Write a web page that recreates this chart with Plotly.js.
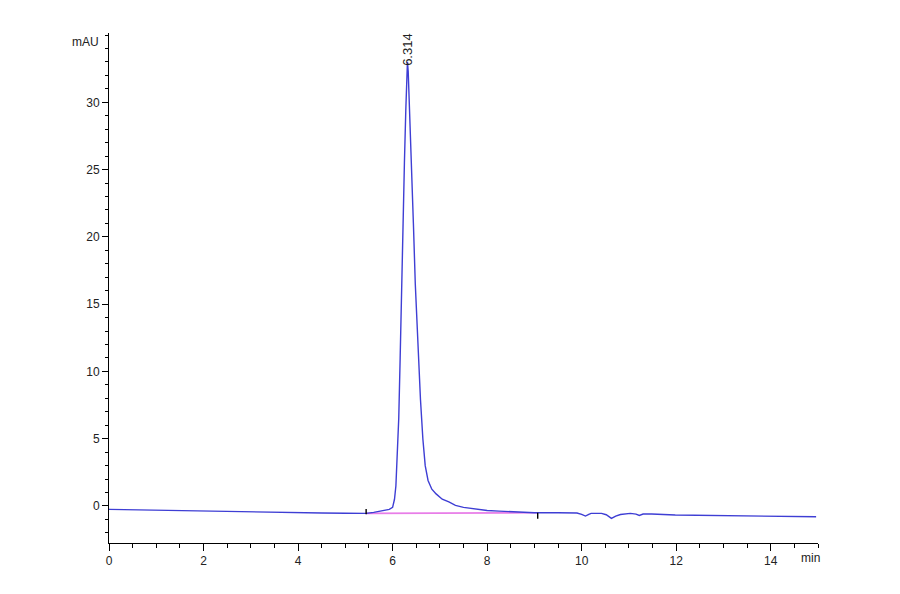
<!DOCTYPE html>
<html>
<head>
<meta charset="utf-8">
<script src="https://cdn.plot.ly/plotly-3.0.1.min.js"></script>
<style>
  html, body { margin: 0; padding: 0; background: #fff; }
  #chart { width: 900px; height: 594px; }
</style>
</head>
<body>
<div id="chart"></div>
<script>
// retention time (min) and detector signal (mAU)
const timeMin = [
  0.00, 0.50, 1.00, 1.50, 2.00, 2.50, 3.00, 3.50, 4.00, 4.50, 5.00, 5.44,
  5.60, 5.80, 5.93, 6.00, 6.04, 6.07, 6.10, 6.13, 6.16, 6.19, 6.22, 6.25,
  6.28, 6.30, 6.314, 6.33, 6.36, 6.40, 6.44, 6.48, 6.53, 6.59, 6.64, 6.69,
  6.75, 6.83, 6.92, 7.05, 7.19, 7.33, 7.50, 7.69, 7.83, 8.00, 8.25, 8.50,
  8.67, 9.00, 9.50, 9.90, 10.00, 10.08, 10.15, 10.20, 10.42, 10.52, 10.63,
  10.72, 10.82, 11.03, 11.15, 11.22, 11.30, 11.48, 11.98, 12.50, 13.03,
  13.50, 14.00, 14.50, 14.96
];
const signalMAU = [
  -0.25, -0.28, -0.33, -0.37, -0.42, -0.44, -0.46, -0.48, -0.50, -0.52, -0.54, -0.55,
  -0.47, -0.35, -0.25, -0.10, 0.5, 1.5, 3.5, 6.5, 11.0, 16.5, 21.5, 25.5,
  29.5, 32.0, 33.0, 32.3, 29.5, 26.0, 21.0, 16.5, 12.0, 7.9, 5.0, 3.0,
  1.9, 1.25, 0.9, 0.5, 0.3, 0.05, -0.10, -0.18, -0.27, -0.33, -0.38, -0.43,
  -0.46, -0.50, -0.50, -0.52, -0.62, -0.75, -0.62, -0.55, -0.55, -0.65, -0.92,
  -0.75, -0.63, -0.55, -0.60, -0.70, -0.60, -0.60, -0.67, -0.69, -0.70,
  -0.72, -0.75, -0.78, -0.80
];

// integration baseline drawn under the peak
const baselineTime = [5.44, 9.07];
const baselineMAU = [-0.55, -0.50];

// baseline start / end event marks
const startMarkTime = [5.44, 5.44];
const startMarkMAU = [-0.62, -0.22];
const endMarkTime = [9.07, 9.07];
const endMarkMAU = [-0.50, -0.95];

const peakTimes = [6.314];
const peakHeights = [33.0];
const peakLabels = ['6.314'];

// labelled ticks on the y axis (the top minor tick at 35 has no label)
const yTickValues = [0, 5, 10, 15, 20, 25, 30];

const font = 'Liberation Sans Narrow, Arial Narrow, Liberation Sans, Arial, sans-serif';

const traces = [
  {
    x: baselineTime, y: baselineMAU,
    type: 'scatter', mode: 'lines',
    line: { color: 'rgb(232,125,232)', width: 1.6 },
    hoverinfo: 'skip'
  },
  {
    x: timeMin, y: signalMAU,
    type: 'scatter', mode: 'lines',
    line: { color: 'rgb(62,62,212)', width: 1.4 }
  },
  {
    x: startMarkTime, y: startMarkMAU,
    type: 'scatter', mode: 'lines',
    line: { color: '#000', width: 1.4 }
  },
  {
    x: endMarkTime, y: endMarkMAU,
    type: 'scatter', mode: 'lines',
    line: { color: '#000', width: 1.4 }
  }
];

const annotations = peakTimes.map((t, i) => ({
  x: t, y: peakHeights[i],
  xref: 'x', yref: 'y',
  text: peakLabels[i],
  textangle: -90,
  showarrow: false,
  xanchor: 'center', yanchor: 'bottom',
  yshift: -6,
  font: { family: font, size: 13, color: '#222' }
}));

annotations.push({
  x: 0, y: 1, xref: 'paper', yref: 'paper',
  text: 'mAU', showarrow: false,
  xanchor: 'right', yanchor: 'top',
  xshift: -8, yshift: 0,
  font: { family: font, size: 12, color: '#222' }
});
annotations.push({
  x: 1, y: 0, xref: 'paper', yref: 'paper',
  text: 'min', showarrow: false,
  xanchor: 'right', yanchor: 'top',
  xshift: 4, yshift: -6,
  font: { family: font, size: 12, color: '#222' }
});

const layout = {
  width: 900,
  height: 594,
  showlegend: false,
  paper_bgcolor: '#fff',
  plot_bgcolor: '#fff',
  margin: { l: 109, r: 82, t: 33, b: 51, pad: 0 },
  xaxis: {
    range: [0, 15],
    dtick: 2,
    tick0: 0,
    showgrid: false,
    zeroline: false,
    showline: true,
    linecolor: '#000',
    linewidth: 1,
    ticks: 'outside',
    ticklen: 7,
    tickcolor: '#000',
    tickfont: { family: font, size: 12, color: '#222' },
    minor: { dtick: 0.5, tick0: 0, ticks: 'outside', ticklen: 4, tickcolor: '#000', showgrid: false }
  },
  yaxis: {
    range: [-2.75, 35.15],
    tickmode: 'array',
    tickvals: yTickValues,
    showgrid: false,
    zeroline: false,
    showline: true,
    linecolor: '#000',
    linewidth: 1,
    ticks: 'outside',
    ticklen: 6,
    tickcolor: '#000',
    tickfont: { family: font, size: 12, color: '#222' },
    minor: { tickmode: 'linear', dtick: 1, tick0: 0, ticks: 'outside', ticklen: 3, tickcolor: '#000', showgrid: false }
  },
  annotations: annotations
};

Plotly.newPlot('chart', traces, layout, { displayModeBar: false, staticPlot: true });
</script>
</body>
</html>
